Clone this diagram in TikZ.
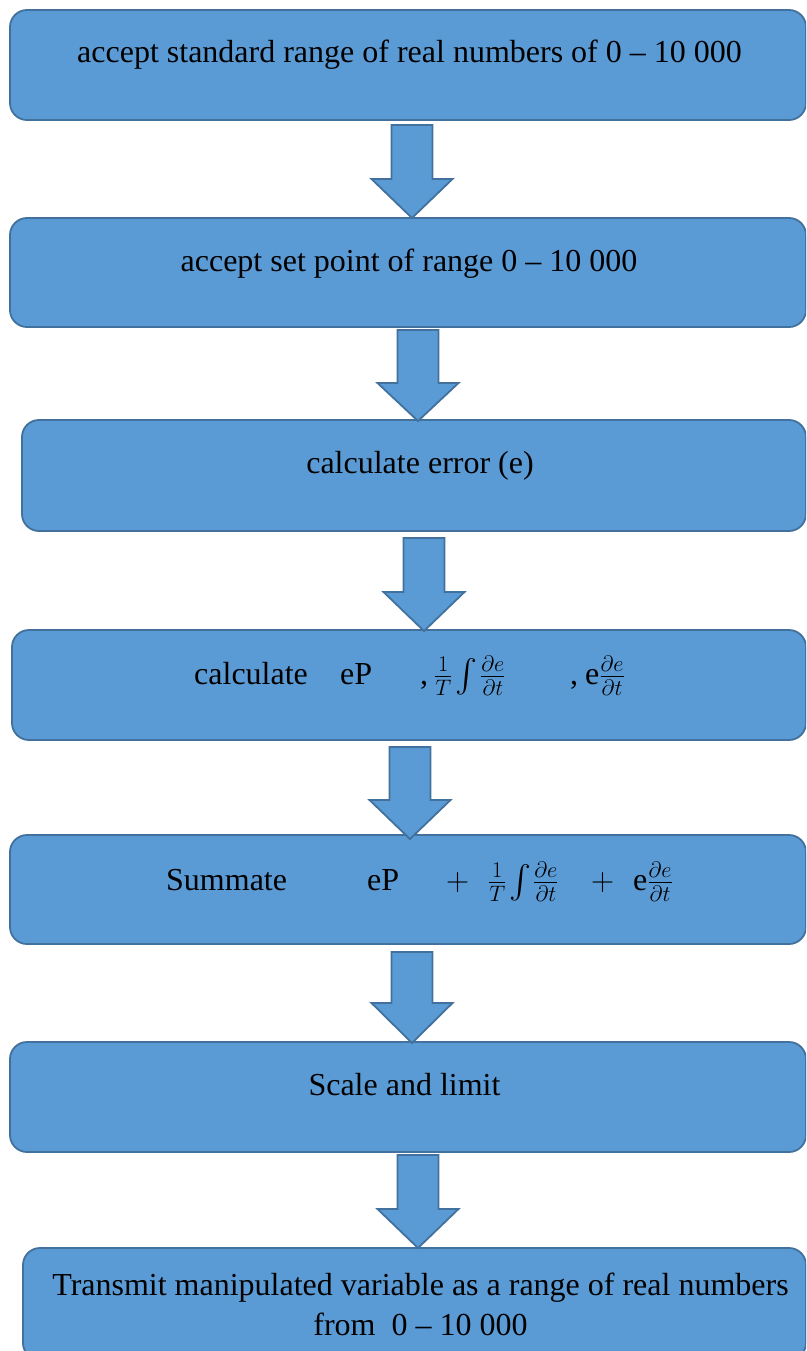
\RequirePackage{fix-cm}
\documentclass[tikz,border=0pt]{standalone}
\usepackage{graphicx}
\usepackage{fontspec}
\setmainfont{Liberation Serif}
\definecolor{boxfill}{RGB}{91,155,213}
\definecolor{boxline}{RGB}{65,113,156}
\tikzset{
  flowbox/.style={draw=boxline, fill=boxfill, line width=1.8pt, rounded corners=17pt, inner sep=0pt},
  arrowshape/.style={draw=boxline, fill=boxfill, line width=1.8pt, line join=miter},
  lbl/.style={inner sep=0pt, font=\fontsize{32}{40}\selectfont, text=black},
}
\newcommand\bigintegral{\raisebox{-19pt}{\scalebox{3.3}{$\int$}}}
% #1 name of tip, #2 centre x, #3 top of shaft, #4 top of head, #5 tip y
\newcommand\flowarrow[5]{%
  \coordinate (#1) at (#2,#5);
  \draw[arrowshape] (#1) -- (#2-40.5,#4) -- (#2-20.5,#4) -- (#2-20.5,#3)
    -- (#2+20.5,#3) -- (#2+20.5,#4) -- (#2+40.5,#4) -- cycle;}
\begin{document}
\begin{tikzpicture}[x=1pt,y=-1pt]
\useasboundingbox (0,0) rectangle (806,1351);
\clip (0,0) rectangle (806,1351);
% boxes
\node[flowbox, minimum width=796pt, minimum height=110pt] (b1) at (408,65) {};
\node[flowbox, minimum width=796pt, minimum height=109pt] (b2) at (408,272.5) {};
\node[flowbox, minimum width=784pt, minimum height=111pt] (b3) at (414,475.5) {};
\node[flowbox, minimum width=794pt, minimum height=110pt] (b4) at (409,685) {};
\node[flowbox, minimum width=796pt, minimum height=109pt] (b5) at (408,889.5) {};
\node[flowbox, minimum width=796pt, minimum height=110pt] (b6) at (408,1097) {};
\node[flowbox, minimum width=783pt, minimum height=112pt] (b7) at (414.5,1304) {};
% arrows
\flowarrow{a1}{412}{125}{179}{218}
\flowarrow{a2}{418}{330}{383}{421}
\flowarrow{a3}{424}{538}{592}{631}
\flowarrow{a4}{410}{747}{800}{839}
\flowarrow{a5}{412}{952}{1003}{1043}
\flowarrow{a6}{418}{1155}{1209}{1248}
% texts
\node[lbl, anchor=base] (t1) at (409.5,63) {accept standard range of real numbers of 0 – 10 000};
\node[lbl, anchor=base] (t2) at (409,271) {accept set point of range 0 – 10 000};
\node[lbl, anchor=base] (t3) at (420,473) {calculate error (e)};
% box 4
\node[lbl, anchor=base west] (t4a) at (194,684) {calculate};
\node[lbl, anchor=base west] (t4b) at (340,684) {eP};
\node[lbl, anchor=base west] (t4c) at (420,684) {,};
\node[lbl, anchor=base west] (t4d) at (434,684) {$\frac{1}{T}$};
\node[lbl, anchor=base west] (t4e) at (455,684) {\bigintegral};
\node[lbl, anchor=base west] (t4f) at (480,684) {$\frac{\partial e}{\partial t}$};
\node[lbl, anchor=base west] (t4g) at (570,684) {,};
\node[lbl, anchor=base west] (t4h) at (585,684) {e$\frac{\partial e}{\partial t}$};
% box 5
\node[lbl, anchor=base west] (t5a) at (166,890) {Summate};
\node[lbl, anchor=base west] (t5b) at (367,890) {eP};
\node[lbl, anchor=base west] (t5c) at (446,890) {$+$};
\node[lbl, anchor=base west] (t5d) at (488,890) {$\frac{1}{T}$};
\node[lbl, anchor=base west] (t5e) at (509,890) {\bigintegral};
\node[lbl, anchor=base west] (t5f) at (533,890) {$\frac{\partial e}{\partial t}$};
\node[lbl, anchor=base west] (t5g) at (591,890) {$+$};
\node[lbl, anchor=base west] (t5h) at (633,890) {e$\frac{\partial e}{\partial t}$};
% box 6, 7
\node[lbl, anchor=base] (t6) at (404.5,1095) {Scale and limit};
\node[lbl, anchor=base] (t7a) at (420.5,1295) {Transmit manipulated variable as a range of real numbers};
\node[lbl, anchor=base] (t7b) at (420.5,1335) {from\ \ 0 – 10 000};
\end{tikzpicture}
\end{document}
